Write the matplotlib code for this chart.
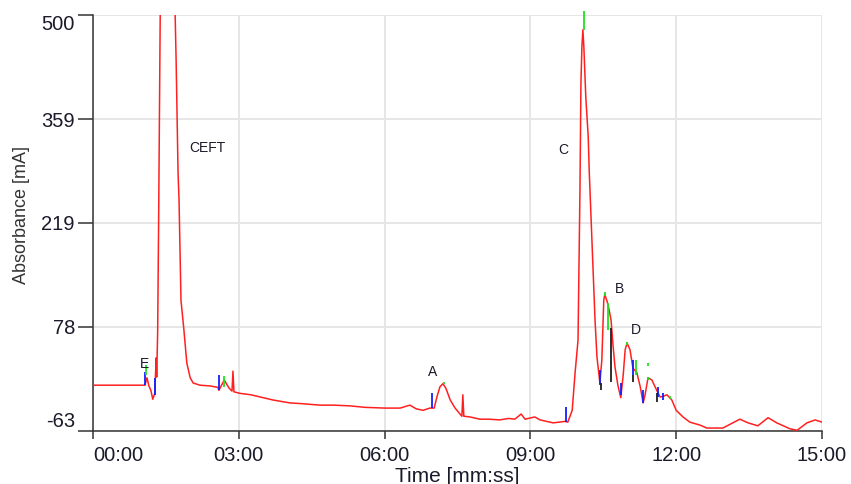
import matplotlib
matplotlib.use("Agg")
import matplotlib.pyplot as plt

# ==========================================
# DATA
# ==========================================

# time in minutes
time_min = [
    0.00, 1.00, 1.07, 1.11, 1.15, 1.19, 1.23, 1.27, 1.30, 1.31,
    1.33, 1.35, 1.37, 1.39, 1.41, 1.46, 1.53, 1.60, 1.69, 1.71,
    1.73, 1.75, 1.77, 1.81, 1.87, 1.93, 2.00, 2.06, 2.20, 2.41,
    2.57, 2.59, 2.70, 2.80, 2.86, 2.88, 2.90, 3.02, 3.25, 3.44,
    3.70, 4.05, 4.30, 4.67, 4.95, 5.29, 5.60, 6.01, 6.32, 6.52,
    6.65, 6.79, 6.93, 7.02, 7.08, 7.14, 7.20, 7.26, 7.35, 7.45,
    7.55, 7.59, 7.61, 7.63, 7.76, 7.96, 8.15, 8.37, 8.55, 8.68,
    8.81, 8.89, 9.09, 9.20, 9.47, 9.71, 9.77, 9.86, 9.92, 9.98,
    10.02, 10.04, 10.06, 10.08, 10.10, 10.14, 10.19, 10.21, 10.25, 10.29,
    10.33, 10.37, 10.43, 10.47, 10.51, 10.53, 10.58, 10.62, 10.66, 10.70,
    10.74, 10.80, 10.86, 10.91, 10.95, 10.99, 11.05, 11.11, 11.19, 11.26,
    11.32, 11.36, 11.42, 11.50, 11.60, 11.67, 11.73, 11.81, 11.91, 12.00,
    12.14, 12.28, 12.49, 12.63, 12.96, 13.31, 13.48, 13.68, 13.89, 14.07,
    14.34, 14.49, 14.69, 14.86, 15.00
]

# absorbance in mA
absorbance = [
    -1, -1, -1, 9, -2, -8, -20, -12, 36, 10,
    70, 220, 400, 560, 800, 1000, 1050, 850, 500, 439,
    361, 286, 250, 114, 74, 29, 9, 2, -1, -2,
    -4, -8, 6, -5, -9, 18, -10, -12, -14, -17,
    -21, -25, -26, -28, -28, -29, -31, -32, -32, -28,
    -33, -35, -32, -32, -16, -3, 1, -5, -21, -32,
    -40, -43, -14, -43, -44, -47, -47, -48, -46, -47,
    -40, -47, -44, -48, -52, -50, -51, -35, 16, 60,
    263, 408, 457, 480, 457, 389, 335, 290, 223, 155,
    87, 37, 2, 33, 114, 122, 112, 101, 87, 53,
    24, -1, -18, 13, 47, 56, 47, 22, 16, -3,
    -25, -14, 9, 6, -8, -17, -16, -14, -21, -35,
    -44, -51, -55, -59, -59, -47, -52, -56, -45, -52,
    -60, -62, -52, -48, -51
]

# integration markers (time, low, high)
blue_t = [1.07, 1.28, 2.59, 6.98, 9.73, 10.43, 10.86, 11.11, 11.32, 11.63, 11.73]
blue_lo = [-1, -14, -8, -32, -51, -1, -14, 13, -25, -17, -21]
blue_hi = [17, 9, 13, -12, -31, 20, 2, 33, -8, -3, -12]

green_t = [1.09, 2.70, 7.22, 10.10, 10.53, 10.60, 10.99, 11.17, 11.42, 11.42, 11.88]
green_lo = [13, -3, 0, 480, 120, 74, 54, 13, 25, 6, -20]
green_hi = [26, 11, 3, 505, 125, 110, 58, 33, 29, 10, -16]

black_t = [10.45, 10.66, 11.11, 11.60]
black_lo = [-8, 3, 3, -24]
black_hi = [2, 76, 13, -12]

peak_names = ["E", "CEFT", "A", "C", "B", "D"]
peak_t = [1.05, 2.35, 6.98, 9.67, 10.84, 11.17]
peak_v = [28, 320, 17, 317, 129, 74]

y_ticks = [-63, 78, 219, 359, 500]
x_ticks = [0, 3, 6, 9, 12, 15]
x_tick_labels = ["00:00", "03:00", "06:00", "09:00", "12:00", "15:00"]

# ==========================================
# PLOT
# ==========================================

plt.rcParams["font.family"] = ["Liberation Sans", "DejaVu Sans"]

fig = plt.figure(figsize=(8.51, 4.84), dpi=100)
ax = fig.add_axes([0.1093, 0.1095, 0.8566, 0.8595])

ax.plot(time_min, absorbance, color="#ff2020", linewidth=1.1, zorder=3)

ax.vlines(blue_t, blue_lo, blue_hi, color="#1020ff", linewidth=1.3, zorder=4)
ax.vlines(green_t, green_lo, green_hi, color="#20e020", linewidth=1.3,
          zorder=4, clip_on=False)
ax.vlines(black_t, black_lo, black_hi, color="#202020", linewidth=1.3, zorder=4)

for name, t, v in zip(peak_names, peak_t, peak_v):
    ax.text(t, v, name, fontsize=10, color="#1a1a2a",
            ha="center", va="center", zorder=5)

ax.set_xlim(0, 15)
ax.set_ylim(-63, 500)

ax.set_xticks(x_ticks)
ax.set_xticklabels(x_tick_labels)
ax.set_yticks(y_ticks)
ax.set_yticklabels([str(v) for v in y_ticks])

# end labels are pushed inside the axis range
ax.get_xticklabels()[0].set_horizontalalignment("left")
ax.get_yticklabels()[0].set_verticalalignment("bottom")
ax.get_yticklabels()[-1].set_verticalalignment("top")

ax.tick_params(axis="x", direction="out", length=6, width=1.1,
               color="#333333", labelsize=14.5, labelcolor="#1a1a2a", pad=5)
ax.tick_params(axis="y", direction="out", length=11, width=1.1,
               color="#333333", labelsize=14.5, labelcolor="#1a1a2a", pad=2)

ax.grid(True, color="#e6e6e6", linewidth=1.4, zorder=0)
ax.set_axisbelow(True)

for side in ["top", "right"]:
    ax.spines[side].set_visible(False)
for side in ["left", "bottom"]:
    ax.spines[side].set_color("#333333")
    ax.spines[side].set_linewidth(1.1)

ax.set_xlabel("Time [mm:ss]", fontsize=15, color="#1a1a2a", labelpad=1)
ax.set_ylabel("Absorbance [mA]", fontsize=13, color="#333333")
ax.yaxis.set_label_coords(-0.087, 0.52)

fig.savefig("out.png", dpi=100)
